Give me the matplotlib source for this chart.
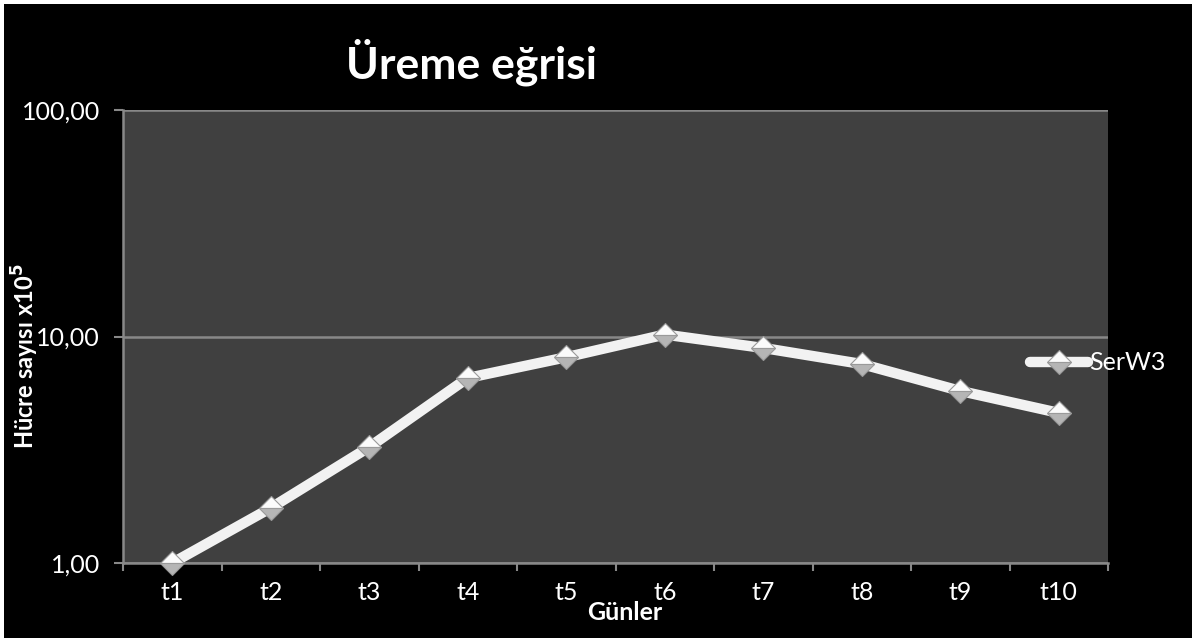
import matplotlib
matplotlib.use("Agg")
import matplotlib.pyplot as plt
from matplotlib.patches import Rectangle
from matplotlib.ticker import FixedLocator, NullLocator

categories = ["t1", "t2", "t3", "t4", "t5", "t6", "t7", "t8", "t9", "t10"]
values = [1.00, 1.75, 3.25, 6.56, 8.1, 10.2, 8.9, 7.56, 5.75, 4.6]
series_name = "SerW3"
yticks = [1, 10, 100]
ytick_labels = ["1,00", "10,00", "100,00"]

plt.rcParams['font.family'] = ['Lato', 'DejaVu Sans']

W, H = 1193, 639
fig = plt.figure(figsize=(W / 100, H / 100), dpi=100, facecolor="white")
fig.patches.append(Rectangle((4 / W, 1 / H), (W - 5) / W, (H - 5) / H,
                             transform=fig.transFigure, facecolor="black",
                             edgecolor="none", zorder=-10))

ax = fig.add_axes([123 / W, 1 - 563 / H, (1108 - 123) / W, (563 - 110) / H])
ax.set_zorder(5)
ax.set_facecolor("#404040")
ax.set_yscale("log")
ax.set_ylim(1, 100)
ax.set_xlim(-0.5, len(categories) - 0.5)

x = list(range(len(categories)))
ax.plot(x, values, color="#f2f2f2", lw=7.5, solid_capstyle="round",
        marker="D", markersize=12, fillstyle="top",
        markerfacecolor="#fbfbfb", markerfacecoloralt="#b5b5b5",
        markeredgecolor="#9a9a9a", markeredgewidth=0.8,
        label=series_name, zorder=3, clip_on=False)

grid_c = "#888888"
for v in yticks:
    ax.axhline(v, color=grid_c, lw=1.8, zorder=1)

for s in ["top", "right"]:
    ax.spines[s].set_visible(False)
for s in ["left", "bottom"]:
    ax.spines[s].set_color(grid_c)
    ax.spines[s].set_linewidth(1.8)

ax.yaxis.set_major_locator(FixedLocator(yticks))
ax.yaxis.set_minor_locator(NullLocator())
ax.set_yticklabels(ytick_labels)
ax.tick_params(axis="y", which="major", direction="out", length=6.5, width=1.5,
               color=grid_c, labelcolor="white", labelsize=18, pad=10)

ax.set_xticks(x)
ax.set_xticklabels(categories)
ax.set_xticks([i - 0.5 for i in range(len(categories) + 1)], minor=True)
ax.tick_params(axis="x", which="major", length=0, labelcolor="white",
               labelsize=18, pad=13)
ax.tick_params(axis="x", which="minor", direction="out", length=6, width=1.5,
               color=grid_c)

fig.text(472 / W, 1 - 62 / H, "Üreme eğrisi", color="white", fontsize=32,
         fontweight="bold", ha="center", va="center", zorder=6)
fig.text(625 / W, 1 - 612 / H, "Günler", color="white", fontsize=18,
         fontweight="bold", ha="center", va="center", zorder=6)
fig.text(25 / W, 1 - 356 / H, "Hücre sayısı x10$^{\\mathbf{5}}$", color="white",
         fontsize=17, fontweight="bold", ha="center", va="center",
         rotation=90, zorder=6)

leg = ax.legend(loc="center left", bbox_to_anchor=(1030 / W, 1 - 363 / H),
                bbox_transform=fig.transFigure, frameon=False,
                handlelength=2.3, handletextpad=0.05, borderpad=0,
                borderaxespad=0, fontsize=18, labelcolor="white")

fig.savefig("out.png", dpi=100, facecolor=fig.get_facecolor())
